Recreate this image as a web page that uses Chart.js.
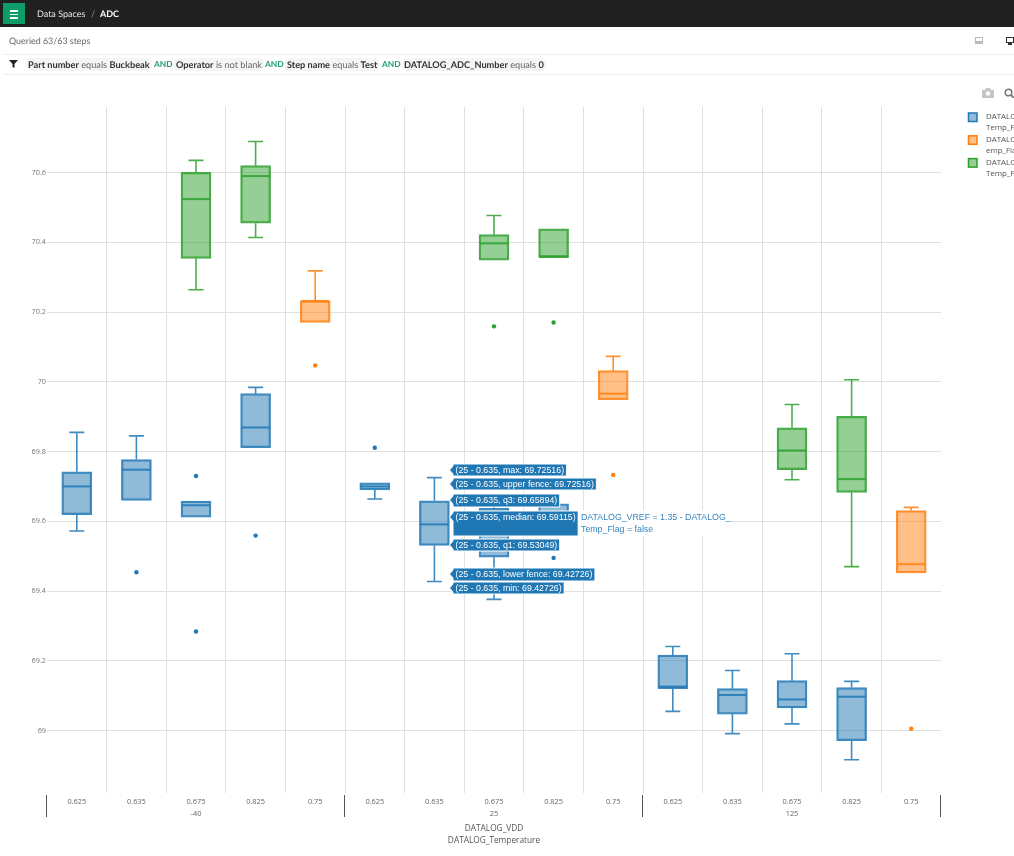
<!DOCTYPE html>
<html>
<head>
<meta charset="utf-8">
<title>ADC</title>
<script src="https://cdn.jsdelivr.net/npm/chart.js@4"></script>
<style>
  html, body { margin: 0; padding: 0; background: #fff; overflow: hidden; }
  body { width: 1014px; height: 856px; position: relative; font-family: "Lato", sans-serif; text-rendering: geometricPrecision; }
  canvas { position: absolute; left: 0; top: 0; }
  .topbar { position: absolute; left: 0; top: 0; width: 1014px; height: 27px; background: #212121; }
  .menu { position: absolute; left: 3px; top: 3px; width: 22px; height: 21px; background: #0c9d68; }
  .menu i { position: absolute; left: 7px; width: 8px; height: 1.6px; background: #fff; }
  .crumb { position: absolute; top: 7px; font-size: 9px; line-height: 13px; color: #e6e6e6; white-space: nowrap; }
  .queried { position: absolute; left: 9px; top: 34px; font-size: 8.9px; line-height: 13px; color: #666; }
  .rule { position: absolute; left: 3px; width: 1011px; height: 1px; background: #eee; }
  .chip, .and { position: absolute; top: 58px; height: 13px; font-size: 9.2px; line-height: 13px; color: #666; white-space: nowrap; }
  .chip { background: #f5f5f5; border-radius: 5px; padding: 0 2px; margin-left: -2px; }
  .chip b { color: #333; font-weight: 700; }
  .and { color: #1f9d77; font-weight: 700; font-size: 8.4px; }
  svg { position: absolute; }
</style>
</head>
<body>
<canvas id="chart" width="1014" height="856"></canvas>

<div class="topbar">
  <div class="menu"><i style="top:7px"></i><i style="top:10.5px"></i><i style="top:14px"></i></div>
  <div class="crumb" style="left:37px">Data Spaces</div>
  <div class="crumb" style="left:91px;color:#999">/</div>
  <div class="crumb" style="left:100px;color:#fff;font-weight:700">ADC</div>
</div>
<div class="queried">Queried 63/63 steps</div>
<div class="rule" style="top:54px"></div>
<div class="rule" style="top:74px"></div>
<svg style="left:9px;top:60px" width="9" height="8"><polygon points="0,0 9,0 5.5,4 5.5,8 3.5,7 3.5,4" fill="#222"/></svg>
<div class="chip" style="left:28px"><b>Part number</b> equals <b>Buckbeak</b></div>
<div class="and" style="left:154px">AND</div>
<div class="chip" style="left:176px"><b>Operator</b> is not blank</div>
<div class="and" style="left:265px">AND</div>
<div class="chip" style="left:287px"><b>Step name</b> equals <b>Test</b></div>
<div class="and" style="left:382px">AND</div>
<div class="chip" style="left:404px"><b>DATALOG_ADC_Number</b> equals <b>0</b></div>
<svg style="left:975px;top:37px" width="8" height="8"><rect x="0.5" y="0.5" width="7" height="6" fill="none" stroke="#bbb"/><rect x="1" y="4" width="6" height="2.5" fill="#bbb"/></svg>
<svg style="left:1006px;top:37px" width="8" height="8"><rect x="0.5" y="0.5" width="7" height="5" fill="none" stroke="#333"/><rect x="2" y="6" width="4" height="2" fill="#333"/></svg>
<svg style="left:982px;top:88px" width="12" height="10"><path d="M0 2h3l1-2h4l1 2h3v8H0z" fill="#c4c4c4"/><circle cx="6" cy="5.5" r="2.2" fill="#fff"/></svg>
<svg style="left:1004px;top:88px" width="10" height="10"><circle cx="4.5" cy="4.5" r="3.3" fill="none" stroke="#777" stroke-width="1.6"/><line x1="7" y1="7" x2="10" y2="10" stroke="#777" stroke-width="1.8"/></svg>

<script>
// Categorias del eje x
const vddLabels = ['0.625', '0.635', '0.675', '0.825', '0.75'];
const temperatures = ['-40', '25', '125'];
const yTicks = [69, 69.2, 69.4, 69.6, 69.8, 70, 70.2, 70.4, 70.6];

// Cajas por categoria: [lower fence, q1, median, q3, upper fence]
const blueBoxes = [
  [69.572, 69.619, 69.700, 69.742, 69.855],
  [69.660, 69.660, 69.748, 69.777, 69.845],
  [69.612, 69.612, 69.646, 69.658, 69.658],
  [69.811, 69.811, 69.869, 69.966, 69.984],
  null,
  [69.664, 69.690, 69.700, 69.710, 69.710],
  [69.42726, 69.53049, 69.59115, 69.65894, 69.72516],
  [69.376, 69.497, 69.530, 69.637, 69.650],
  [69.560, 69.560, 69.600, 69.650, 69.650],
  null,
  [69.055, 69.120, 69.126, 69.216, 69.241],
  [68.991, 69.047, 69.102, 69.120, 69.172],
  [69.019, 69.065, 69.089, 69.143, 69.220],
  [68.916, 68.971, 69.097, 69.123, 69.141],
  null
];
const orangeBoxes = [
  null, null, null, null,
  [70.170, 70.170, 70.232, 70.232, 70.318],
  null, null, null, null,
  [69.949, 69.949, 69.966, 70.032, 70.073],
  null, null, null, null,
  [69.452, 69.452, 69.477, 69.631, 69.640]
];
const greenBoxes = [
  null, null,
  [70.264, 70.354, 70.524, 70.601, 70.635],
  [70.414, 70.455, 70.590, 70.620, 70.689],
  null, null, null,
  [70.349, 70.349, 70.397, 70.422, 70.477],
  [70.356, 70.356, 70.360, 70.439, 70.439],
  null, null, null,
  [69.719, 69.748, 69.803, 69.868, 69.935],
  [69.470, 69.683, 69.721, 69.901, 70.006],
  null
];

// Puntos atipicos
const blueOutliers = [null, 69.454, 69.730, 69.559, null, 69.811, null, null, 69.495, null, null, null, null, null, null];
const blueOutliersLow = [null, null, 69.284, null, null, null, null, null, null, null, null, null, null, null, null];
const orangeOutliers = [null, null, null, null, 70.047, null, null, null, null, 69.733, null, null, null, null, 69.005];
const greenOutliers = [null, null, null, null, null, null, null, 70.159, 70.170, null, null, null, null, null, null];

// Leyenda
const legendLines = [
  ['DATALOG_VREF = 1.35 - DATALOG_', 'Temp_Flag = false'],
  ['DATALOG_VREF = 1.35 - DATALOG_T', 'emp_Flag = false'],
  ['DATALOG_VREF = 1.35 - DATALOG_', 'Temp_Flag = true']
];

// Etiquetas del hover sobre la caja 25 - 0.635
const hoverName = '25 - 0.635';
const hoverStats = ['max', 'upper fence', 'q3', 'median', 'q1', 'lower fence', 'min'];
const hoverValues = ['69.72516', '69.72516', '69.65894', '69.59115', '69.53049', '69.42726', '69.42726'];
const hoverSeries = ['DATALOG_VREF = 1.35 - DATALOG_', 'Temp_Flag = false'];

const BLUE = '#1f77b4', ORANGE = '#ff7f0e', GREEN = '#2ca02c';
const series = [
  { boxes: blueBoxes, color: BLUE, line: 'rgba(31,119,180,0.85)', fill: 'rgba(31,119,180,0.5)' },
  { boxes: orangeBoxes, color: ORANGE, line: 'rgba(255,127,14,0.85)', fill: 'rgba(255,127,14,0.5)' },
  { boxes: greenBoxes, color: GREEN, line: 'rgba(44,160,44,0.85)', fill: 'rgba(44,160,44,0.5)' }
];

// Etiquetas de dos niveles: la temperatura va debajo de la categoria central
const labels = [];
temperatures.forEach(function (t) {
  vddLabels.forEach(function (v, i) {
    labels.push(i === 2 ? [v, t] : [v]);
  });
});

const datasets = series.map(function (s) {
  return {
    type: 'bar',
    data: s.boxes.map(b => b ? [b[1], b[3]] : null),
    backgroundColor: s.fill,
    borderColor: s.line,
    borderWidth: 1.6,
    borderSkipped: false,
    barThickness: 30,
    grouped: false
  };
});

function outlierSet(values, color) {
  return { type: 'line', data: values, showLine: false, pointRadius: 2.2, pointBorderWidth: 0, pointBackgroundColor: color };
}
datasets.push(outlierSet(blueOutliers, BLUE));
datasets.push(outlierSet(blueOutliersLow, BLUE));
datasets.push(outlierSet(orangeOutliers, ORANGE));
datasets.push(outlierSet(greenOutliers, GREEN));

// Bigotes y medianas
const boxDetails = {
  id: 'boxDetails',
  afterDatasetsDraw(chart) {
    const ctx = chart.ctx, x = chart.scales.x, y = chart.scales.y;
    ctx.save();
    series.forEach(function (s) {
      ctx.strokeStyle = s.line;
      s.boxes.forEach(function (b, i) {
        if (!b) return;
        const cx = x.getPixelForValue(i);
        ctx.lineWidth = 2;
        ctx.beginPath();
        ctx.moveTo(cx - 14, y.getPixelForValue(b[2]));
        ctx.lineTo(cx + 14, y.getPixelForValue(b[2]));
        ctx.stroke();
        ctx.lineWidth = 1.6;
        ctx.beginPath();
        [[b[0], b[1]], [b[4], b[3]]].forEach(function (w) {
          if (w[0] === w[1]) return;
          ctx.moveTo(cx, y.getPixelForValue(w[1]));
          ctx.lineTo(cx, y.getPixelForValue(w[0]));
          ctx.moveTo(cx - 7.5, y.getPixelForValue(w[0]));
          ctx.lineTo(cx + 7.5, y.getPixelForValue(w[0]));
        });
        ctx.stroke();
      });
    });
    ctx.restore();
  }
};

// Separadores de temperatura, leyenda y etiquetas del hover
const overlays = {
  id: 'overlays',
  afterDraw(chart) {
    const ctx = chart.ctx, x = chart.scales.x;
    ctx.save();

    ctx.strokeStyle = '#555';
    ctx.lineWidth = 1;
    for (let i = 0; i <= temperatures.length; i++) {
      const px = Math.round(x.left + x.width * i / temperatures.length) - 0.5;
      ctx.beginPath();
      ctx.moveTo(px, 795);
      ctx.lineTo(px, 817);
      ctx.stroke();
    }

    // leyenda (se corta en el borde de la ventana, como en la captura)
    ctx.textBaseline = 'middle';
    ctx.font = '7.9px "Open Sans"';
    series.forEach(function (s, i) {
      const top = 113 + i * 22.8;
      ctx.fillStyle = s.fill;
      ctx.strokeStyle = s.color;
      ctx.lineWidth = 1.5;
      ctx.fillRect(968.5, top, 8.5, 8.5);
      ctx.strokeRect(968.5, top, 8.5, 8.5);
      ctx.fillStyle = '#555';
      ctx.fillText(legendLines[i][0], 986, top + 3.7);
      ctx.fillText(legendLines[i][1], 986, top + 15);
    });

    // nombre de la serie junto al hover
    ctx.fillStyle = '#fff';
    ctx.fillRect(578, 510, 152, 26);
    ctx.fillStyle = '#3585bd';
    ctx.font = '8.8px "Liberation Sans"';
    ctx.fillText(hoverSeries[0], 581, 518);
    ctx.fillText(hoverSeries[1], 581, 530);

    // etiquetas del hover
    const tipTop = [464, 478, 494, 511, 539, 568, 582];
    const tipHeight = [12, 12, 13, 25, 12, 13, 12];
    const tipX = 453;
    hoverStats.forEach(function (stat, i) {
      const text = '(' + hoverName + ', ' + stat + ': ' + hoverValues[i] + ')';
      const w = ctx.measureText(text).width + 5;
      const t = tipTop[i], h = tipHeight[i];
      ctx.fillStyle = BLUE;
      ctx.strokeStyle = '#fff';
      ctx.lineWidth = 1;
      ctx.beginPath();
      ctx.moveTo(tipX, t);
      ctx.lineTo(tipX + w, t);
      ctx.lineTo(tipX + w, t + h);
      ctx.lineTo(tipX, t + h);
      ctx.lineTo(tipX, t + 10);
      ctx.lineTo(tipX - 3.5, t + 6);
      ctx.lineTo(tipX, t + 2);
      ctx.closePath();
      ctx.fill();
      ctx.stroke();
      ctx.fillStyle = '#fff';
      ctx.fillText(text, tipX + 2.5, t + 6.5);
    });
    ctx.restore();
  }
};

new Chart(document.getElementById('chart').getContext('2d'), {
  data: { labels: labels, datasets: datasets },
  plugins: [boxDetails, overlays],
  options: {
    responsive: false,
    animation: false,
    events: [],
    layout: { padding: { top: 107, right: 73, bottom: 0, left: 0 } },
    plugins: { legend: { display: false }, tooltip: { enabled: false } },
    scales: {
      x: {
        offset: true,
        border: { display: false },
        grid: {
          offset: true,
          drawTicks: false,
          lineWidth: 1,
          color: ctx => (ctx.type === 'tick' && ctx.index > 0) ? '#e0e0e0' : 'rgba(0,0,0,0)'
        },
        ticks: {
          autoSkip: false,
          maxRotation: 0,
          padding: 3,
          color: '#666',
          font: { family: '"Open Sans"', size: 7.4, lineHeight: 1.62 }
        },
        title: {
          display: true,
          text: ['DATALOG_VDD', 'DATALOG_Temperature'],
          color: '#555',
          font: { family: '"Open Sans"', size: 8.3, lineHeight: 1.45 },
          padding: { top: 0, bottom: 9 }
        },
        afterFit(scale) { scale.height = 63; }
      },
      y: {
        min: 68.8208,
        max: 70.7881,
        border: { display: false },
        grid: { drawTicks: false, color: '#e0e0e0', lineWidth: 1 },
        afterBuildTicks(scale) { scale.ticks = yTicks.map(v => ({ value: v })); },
        ticks: {
          padding: 1,
          color: '#777',
          font: { family: '"Open Sans"', size: 7.3 },
          callback: v => String(v)
        },
        afterFit(scale) { scale.width = 47; }
      }
    }
  }
});
</script>
</body>
</html>
